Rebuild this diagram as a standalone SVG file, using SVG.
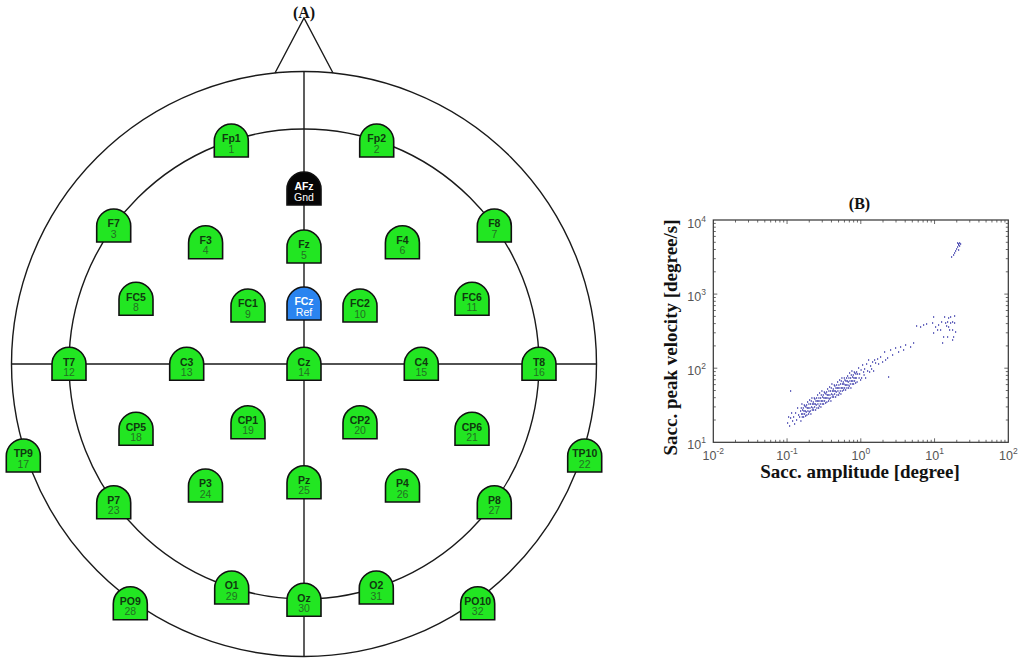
<svg xmlns="http://www.w3.org/2000/svg" xmlns:xlink="http://www.w3.org/1999/xlink" width="1024" height="667" viewBox="0 0 1024 667">
<style>
.ln{fill:none;stroke:#1a1a1a;stroke-width:1.4}
.g{fill:#22e622;stroke:#111;stroke-width:1.6}
.k{fill:#050505;stroke:#111;stroke-width:1.6}
.b{fill:#2a84f0;stroke:#111;stroke-width:1.6}
.n{font-family:"Liberation Sans Narrow","Liberation Sans",Arial,sans-serif;font-size:10.5px;font-weight:bold;fill:#0f3a0f;text-anchor:middle}
.d{font-family:"Liberation Sans Narrow","Liberation Sans",Arial,sans-serif;font-size:10.5px;fill:#237023;text-anchor:middle}
.w{fill:#fff}
.ttl{font-family:"Liberation Serif","Times New Roman",serif;font-weight:bold;font-size:16px;fill:#111;text-anchor:middle}
.ax{font-family:"Liberation Serif","Times New Roman",serif;font-weight:bold;font-size:19px;fill:#111;text-anchor:middle}
.tk{font-family:"Liberation Sans",Arial,sans-serif;font-size:12.5px;fill:#555}
.tk tspan.e{font-size:8.5px}
</style>
<defs>
<path id="el" d="M-17,33 V17 A17,17 0 0 1 17,17 V33 Z"/>
</defs>
<rect width="1024" height="667" fill="#fff"/>
<text class="ttl" x="304" y="18">(A)</text>
<g id="head">
<circle class="ln" cx="304" cy="364" r="292.5"/>
<circle class="ln" cx="304" cy="364" r="235"/>
<path class="ln" d="M275,73 L304,18 L333,73"/>
<path class="ln" d="M304,71.5 V656.5 M11.5,364 H596.5"/>
</g>
<g id="electrodes">
<g id="Fp1" transform="translate(231.3,124)"><use xlink:href="#el" class="g"/><text class="n" y="18.3">Fp1</text><text class="d" y="28.7">1</text></g>
<g id="Fp2" transform="translate(376.7,124)"><use xlink:href="#el" class="g"/><text class="n" y="18.3">Fp2</text><text class="d" y="28.7">2</text></g>
<g id="AFz" transform="translate(304,172)"><use xlink:href="#el" class="k"/><text class="n w" y="18.3">AFz</text><text class="d w" y="28.7">Gnd</text></g>
<g id="F7" transform="translate(113.7,209)"><use xlink:href="#el" class="g"/><text class="n" y="18.3">F7</text><text class="d" y="28.7">3</text></g>
<g id="F3" transform="translate(205.6,225.7)"><use xlink:href="#el" class="g"/><text class="n" y="18.3">F3</text><text class="d" y="28.7">4</text></g>
<g id="Fz" transform="translate(304,230)"><use xlink:href="#el" class="g"/><text class="n" y="18.3">Fz</text><text class="d" y="28.7">5</text></g>
<g id="F4" transform="translate(402.4,225.7)"><use xlink:href="#el" class="g"/><text class="n" y="18.3">F4</text><text class="d" y="28.7">6</text></g>
<g id="F8" transform="translate(494.3,209)"><use xlink:href="#el" class="g"/><text class="n" y="18.3">F8</text><text class="d" y="28.7">7</text></g>
<g id="FC5" transform="translate(136,282.3)"><use xlink:href="#el" class="g"/><text class="n" y="18.3">FC5</text><text class="d" y="28.7">8</text></g>
<g id="FC1" transform="translate(248,289)"><use xlink:href="#el" class="g"/><text class="n" y="18.3">FC1</text><text class="d" y="28.7">9</text></g>
<g id="FCz" transform="translate(304,287)"><use xlink:href="#el" class="b"/><text class="n w" y="18.3">FCz</text><text class="d w" y="28.7">Ref</text></g>
<g id="FC2" transform="translate(360,289)"><use xlink:href="#el" class="g"/><text class="n" y="18.3">FC2</text><text class="d" y="28.7">10</text></g>
<g id="FC6" transform="translate(472,282.3)"><use xlink:href="#el" class="g"/><text class="n" y="18.3">FC6</text><text class="d" y="28.7">11</text></g>
<g id="T7" transform="translate(69,347.3)"><use xlink:href="#el" class="g"/><text class="n" y="18.3">T7</text><text class="d" y="28.7">12</text></g>
<g id="C3" transform="translate(186.7,347.3)"><use xlink:href="#el" class="g"/><text class="n" y="18.3">C3</text><text class="d" y="28.7">13</text></g>
<g id="Cz" transform="translate(304,347.3)"><use xlink:href="#el" class="g"/><text class="n" y="18.3">Cz</text><text class="d" y="28.7">14</text></g>
<g id="C4" transform="translate(421.3,347.3)"><use xlink:href="#el" class="g"/><text class="n" y="18.3">C4</text><text class="d" y="28.7">15</text></g>
<g id="T8" transform="translate(539,347.3)"><use xlink:href="#el" class="g"/><text class="n" y="18.3">T8</text><text class="d" y="28.7">16</text></g>
<g id="TP9" transform="translate(23.3,439)"><use xlink:href="#el" class="g"/><text class="n" y="18.3">TP9</text><text class="d" y="28.7">17</text></g>
<g id="CP5" transform="translate(136,412.3)"><use xlink:href="#el" class="g"/><text class="n" y="18.3">CP5</text><text class="d" y="28.7">18</text></g>
<g id="CP1" transform="translate(248,405.7)"><use xlink:href="#el" class="g"/><text class="n" y="18.3">CP1</text><text class="d" y="28.7">19</text></g>
<g id="CP2" transform="translate(360,405.7)"><use xlink:href="#el" class="g"/><text class="n" y="18.3">CP2</text><text class="d" y="28.7">20</text></g>
<g id="CP6" transform="translate(472,412.3)"><use xlink:href="#el" class="g"/><text class="n" y="18.3">CP6</text><text class="d" y="28.7">21</text></g>
<g id="TP10" transform="translate(584.7,439)"><use xlink:href="#el" class="g"/><text class="n" y="18.3">TP10</text><text class="d" y="28.7">22</text></g>
<g id="P7" transform="translate(113.7,485.7)"><use xlink:href="#el" class="g"/><text class="n" y="18.3">P7</text><text class="d" y="28.7">23</text></g>
<g id="P3" transform="translate(205.5,469)"><use xlink:href="#el" class="g"/><text class="n" y="18.3">P3</text><text class="d" y="28.7">24</text></g>
<g id="Pz" transform="translate(304,465.7)"><use xlink:href="#el" class="g"/><text class="n" y="18.3">Pz</text><text class="d" y="28.7">25</text></g>
<g id="P4" transform="translate(402.5,469)"><use xlink:href="#el" class="g"/><text class="n" y="18.3">P4</text><text class="d" y="28.7">26</text></g>
<g id="P8" transform="translate(494.3,485.7)"><use xlink:href="#el" class="g"/><text class="n" y="18.3">P8</text><text class="d" y="28.7">27</text></g>
<g id="PO9" transform="translate(130.3,586.7)"><use xlink:href="#el" class="g"/><text class="n" y="18.3">PO9</text><text class="d" y="28.7">28</text></g>
<g id="O1" transform="translate(231.7,571)"><use xlink:href="#el" class="g"/><text class="n" y="18.3">O1</text><text class="d" y="28.7">29</text></g>
<g id="Oz" transform="translate(304,583.3)"><use xlink:href="#el" class="g"/><text class="n" y="18.3">Oz</text><text class="d" y="28.7">30</text></g>
<g id="O2" transform="translate(376.3,571)"><use xlink:href="#el" class="g"/><text class="n" y="18.3">O2</text><text class="d" y="28.7">31</text></g>
<g id="PO10" transform="translate(477.7,586.7)"><use xlink:href="#el" class="g"/><text class="n" y="18.3">PO10</text><text class="d" y="28.7">32</text></g>
</g>
<g id="plotB">
<text class="ttl" x="859.5" y="209">(B)</text>
<rect x="713.3" y="220" width="295" height="222.3" fill="none" stroke="#333" stroke-width="1.2"/>
<path fill="none" stroke="#444" stroke-width="0.8" d="M787.05,442.3v-4M860.8,442.3v-4M934.55,442.3v-4M787.05,220v4M860.8,220v4M934.55,220v4
M735.5,442.3v-2.5M748.5,442.3v-2.5M757.7,442.3v-2.5M764.8,442.3v-2.5M770.7,442.3v-2.5M775.6,442.3v-2.5M779.9,442.3v-2.5M783.7,442.3v-2.5
M809.25,442.3v-2.5M822.25,442.3v-2.5M831.45,442.3v-2.5M838.55,442.3v-2.5M844.45,442.3v-2.5M849.35,442.3v-2.5M853.65,442.3v-2.5M857.45,442.3v-2.5
M883,442.3v-2.5M896,442.3v-2.5M905.2,442.3v-2.5M912.3,442.3v-2.5M918.2,442.3v-2.5M923.1,442.3v-2.5M927.4,442.3v-2.5M931.2,442.3v-2.5
M956.75,442.3v-2.5M969.75,442.3v-2.5M978.95,442.3v-2.5M986.05,442.3v-2.5M991.95,442.3v-2.5M996.85,442.3v-2.5M1001.15,442.3v-2.5M1004.95,442.3v-2.5
M735.5,220v2.5M748.5,220v2.5M757.7,220v2.5M764.8,220v2.5M770.7,220v2.5M775.6,220v2.5M779.9,220v2.5M783.7,220v2.5
M809.25,220v2.5M822.25,220v2.5M831.45,220v2.5M838.55,220v2.5M844.45,220v2.5M849.35,220v2.5M853.65,220v2.5M857.45,220v2.5
M883,220v2.5M896,220v2.5M905.2,220v2.5M912.3,220v2.5M918.2,220v2.5M923.1,220v2.5M927.4,220v2.5M931.2,220v2.5
M956.75,220v2.5M969.75,220v2.5M978.95,220v2.5M986.05,220v2.5M991.95,220v2.5M996.85,220v2.5M1001.15,220v2.5M1004.95,220v2.5
M713.3,368.2h4M713.3,294.1h4M1008.3,368.2h-4M1008.3,294.1h-4
M713.3,420h2.5M713.3,406.9h2.5M713.3,397.7h2.5M713.3,390.5h2.5M713.3,384.6h2.5M713.3,379.7h2.5M713.3,375.4h2.5M713.3,371.6h2.5
M713.3,345.9h2.5M713.3,332.8h2.5M713.3,323.6h2.5M713.3,316.4h2.5M713.3,310.5h2.5M713.3,305.6h2.5M713.3,301.3h2.5M713.3,297.5h2.5
M713.3,271.8h2.5M713.3,258.7h2.5M713.3,249.5h2.5M713.3,242.3h2.5M713.3,236.4h2.5M713.3,231.5h2.5M713.3,227.2h2.5M713.3,223.4h2.5
M1008.3,420h-2.5M1008.3,406.9h-2.5M1008.3,397.7h-2.5M1008.3,390.5h-2.5M1008.3,384.6h-2.5M1008.3,379.7h-2.5M1008.3,375.4h-2.5M1008.3,371.6h-2.5
M1008.3,345.9h-2.5M1008.3,332.8h-2.5M1008.3,323.6h-2.5M1008.3,316.4h-2.5M1008.3,310.5h-2.5M1008.3,305.6h-2.5M1008.3,301.3h-2.5M1008.3,297.5h-2.5
M1008.3,271.8h-2.5M1008.3,258.7h-2.5M1008.3,249.5h-2.5M1008.3,242.3h-2.5M1008.3,236.4h-2.5M1008.3,231.5h-2.5M1008.3,227.2h-2.5M1008.3,223.4h-2.5"/>
<text class="tk" x="713.3" y="459.5" text-anchor="middle">10<tspan class="e" dy="-6">-2</tspan></text>
<text class="tk" x="787.05" y="459.5" text-anchor="middle">10<tspan class="e" dy="-6">-1</tspan></text>
<text class="tk" x="860.8" y="459.5" text-anchor="middle">10<tspan class="e" dy="-6">0</tspan></text>
<text class="tk" x="934.55" y="459.5" text-anchor="middle">10<tspan class="e" dy="-6">1</tspan></text>
<text class="tk" x="1008.3" y="459.5" text-anchor="middle">10<tspan class="e" dy="-6">2</tspan></text>
<text class="tk" x="706" y="449" text-anchor="end">10<tspan class="e" dy="-6">1</tspan></text>
<text class="tk" x="706" y="375" text-anchor="end">10<tspan class="e" dy="-6">2</tspan></text>
<text class="tk" x="706" y="301" text-anchor="end">10<tspan class="e" dy="-6">3</tspan></text>
<text class="tk" x="706" y="227.5" text-anchor="end">10<tspan class="e" dy="-6">4</tspan></text>
<text class="ax" x="860" y="478">Sacc. amplitude [degree]</text>
<text class="ax" x="677" y="337.5" transform="rotate(-90 677 337.5)">Sacc. peak velocity [degree/s]</text>
<path fill="none" stroke="#3a3aab" stroke-width="1.5" d="M787 423h1.2M788 417h1.2M789 426h1.2M790 418h1.2M791 413h1.2M792 421h1.2M793 417h1.2M794 424h1.2M795 413h1.2M796 420h1.2M797 408h1.2M798 415h1.2M799 417h1.2
M800 411h1.2M800.3 421h1.2M800.7 408h1.2M801 414h1.2M801.3 404h1.2M801.7 417h1.2M802 410h1.2M802.3 414h1.2M802.7 408h1.2M803 417h1.2M803.3 411h1.2M803.7 405h1.2
M804 414h1.2M804.3 406h1.2M804.7 411h1.2M805 416h1.2M805.3 407h1.2M805.7 412h1.2M806 405h1.2M806.3 415h1.2M806.7 408h1.2M807 402h1.2M807.3 411h1.2M807.7 408h1.2
M808 414h1.2M808.3 404h1.2M808.7 412h1.2M809 400h1.2M809.3 408h1.2M809.7 411h1.2M810 404h1.2M810.3 414h1.2M810.7 401h1.2M811 407h1.2M811.3 398h1.2M811.7 410h1.2
M812 404h1.2M812.3 408h1.2M812.7 402h1.2M813 410h1.2M813.3 404h1.2M813.7 398h1.2M814 407h1.2M814.3 399h1.2M814.7 404h1.2M815 410h1.2M815.3 401h1.2M815.7 405h1.2
M816 398h1.2M816.3 408h1.2M816.7 401h1.2M817 395h1.2M817.3 404h1.2M817.7 401h1.2M818 408h1.2M818.3 398h1.2M818.7 406h1.2M819 393h1.2M819.3 401h1.2M819.7 404h1.2
M820 398h1.2M820.3 407h1.2M820.7 395h1.2M821 401h1.2M821.3 391h1.2M821.7 404h1.2M822 397h1.2M822.3 401h1.2M822.7 395h1.2M823 404h1.2M823.3 398h1.2M823.7 392h1.2
M824 401h1.2M824.3 393h1.2M824.7 398h1.2M825 403h1.2M825.3 394h1.2M825.7 398h1.2M826 392h1.2M826.3 402h1.2M826.7 395h1.2M827 389h1.2M827.3 398h1.2M827.7 395h1.2
M828 401h1.2M828.3 391h1.2M828.7 399h1.2M829 387h1.2M829.3 395h1.2M829.7 398h1.2M830 391h1.2M830.3 401h1.2M830.7 388h1.2M831 394h1.2M831.3 384h1.2M831.7 397h1.2
M832 391h1.2M832.3 395h1.2M832.7 389h1.2M833 397h1.2M833.3 391h1.2M833.7 385h1.2M834 394h1.2M834.3 386h1.2M834.7 391h1.2M835 397h1.2M835.3 388h1.2M835.7 392h1.2
M836 385h1.2M836.3 395h1.2M836.7 388h1.2M837 382h1.2M837.3 391h1.2M837.7 388h1.2M838 395h1.2M838.3 385h1.2M838.7 393h1.2M839 380h1.2M839.3 388h1.2M839.7 391h1.2
M840 384h1.2M840.3 394h1.2M840.7 381h1.2M841 388h1.2M841.3 378h1.2M841.7 391h1.2M842 384h1.2M842.3 388h1.2M842.7 382h1.2M843 390h1.2M843.3 384h1.2M843.7 378h1.2
M844 388h1.2M844.3 380h1.2M844.7 385h1.2M845 390h1.2M845.3 381h1.2M845.7 385h1.2M846 378h1.2M846.3 388h1.2M846.7 381h1.2M847 376h1.2M847.3 385h1.2M847.7 382h1.2
M848 388h1.2M848.3 378h1.2M848.7 386h1.2M849 373h1.2M849.3 381h1.2M849.7 384h1.2M850 378h1.2M850.3 388h1.2M850.7 375h1.2M851 381h1.2M851.3 371h1.2M851.7 384h1.2
M852 377h1.2M852.3 381h1.2M852.7 375h1.2M853 384h1.2M853.3 378h1.2M853.7 372h1.2M854 381h1.2M854.3 373h1.2M854.7 378h1.2M855 383h1.2M855.3 374h1.2M855.7 378h1.2
M856 372h1.2M856.5 382h1.2M857 374h1.2M858 368h1.2M858.5 378h1.2M859 374h1.2M860 380h1.2M860.5 370h1.2M861 378h1.2M862 365h1.2M863 372h1.2M863.5 375h1.2M864 369h1.2
M865 378h1.2M866 364h1.2M867 371h1.2M868 360h1.2M869 372h1.2M870 366h1.2M871 369h1.2M872 362h1.2M873 371h1.2M874 360h1.2M875 363h1.2M877 359h1.2M878 364h1.2M880 357h1.2
M882 362h1.2M884 352h1.2M885 360h1.2M887 358h1.2M888 377h1.2M890 350h1.2M892 355h1.2M895 348h1.2M898 352h1.2M900 347h1.2M903 350h1.2M905 345h1.2M910 347h1.2M913 343h1.2
M916 326h1.2M920 327h1.2M923 325h1.2M926 324h1.2M933 317h1.2M932 323h1.2M935 327h1.2M937 330h1.2M933 333h1.2M942 343h1.2M943 337h1.2M945 323h1.2M947 322h1.2M948 318h1.2
M950 317h1.2M952 330h1.2M953 337h1.2M952 340h1.2M948 327h1.2M940 330h1.2M944 317h1.2M950 323h1.2M952 322h1.2M947 337h1.2M954 323h1.2M938 325h1.2M946 326h1.2M949 330h1.2
M941 322h1.2M954 316h1.2M955 332h1.2M790 391h1.2
M957 243h1.2M958 244h1.2M959 243h1.2M958 245h1.2M957 247h1.2M956 249h1.2M955 251h1.2M954 253h1.2M953 255h1.2M951 257h1.2M959 246h1.2M960 244h1.2M958 250h1.2"/>
</g>
</svg>
